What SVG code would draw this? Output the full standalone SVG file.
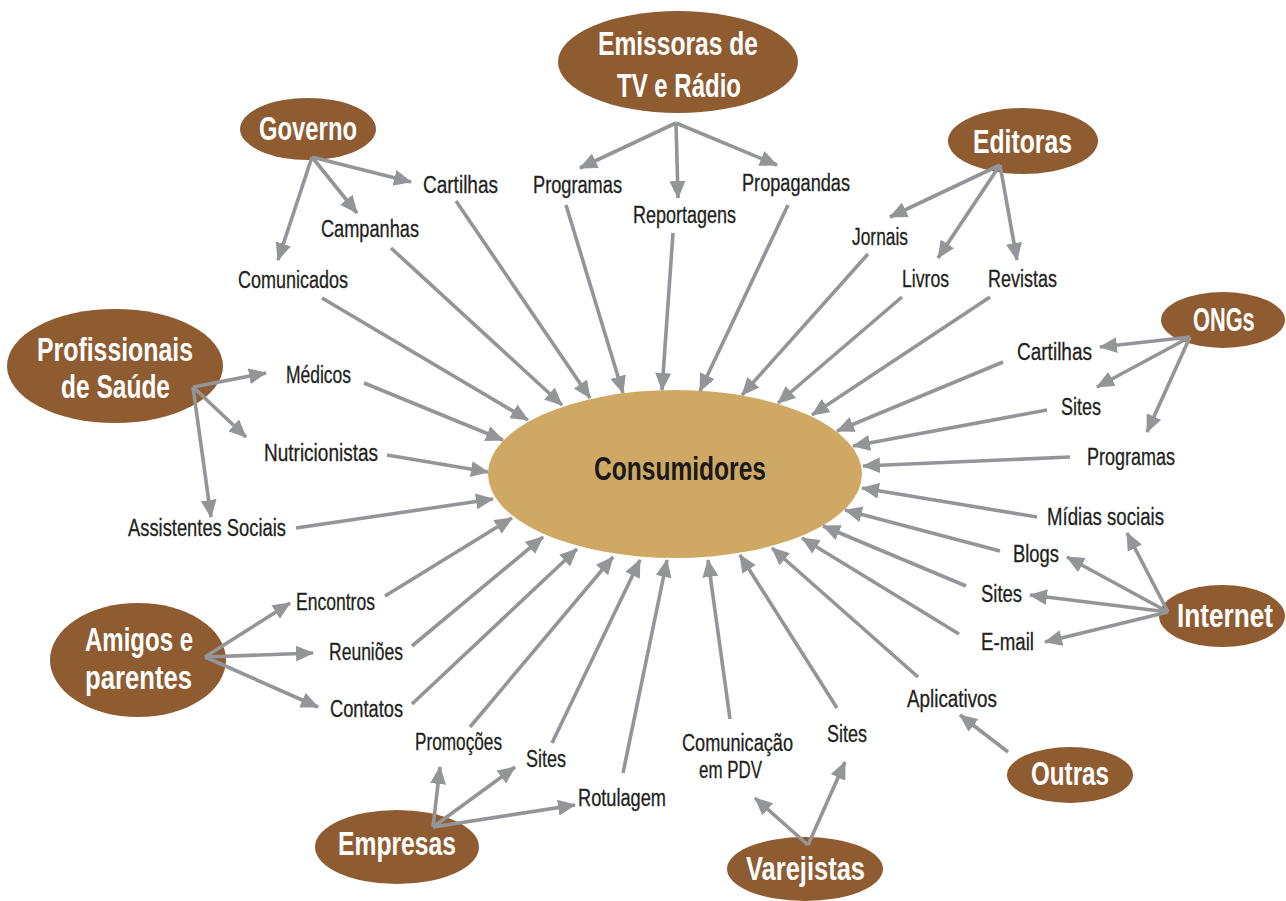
<svg xmlns="http://www.w3.org/2000/svg" width="1286" height="901" viewBox="0 0 1286 901">
  <style>
    .src { fill: #8f5b31; }
    .hub { fill: #cfa864; }
    .src-t { font-family: "Liberation Sans Narrow", "Liberation Sans", sans-serif; font-size: 34px; font-weight: bold; fill: #ffffff; }
    .hub-t { font-family: "Liberation Sans Narrow", "Liberation Sans", sans-serif; font-size: 34px; font-weight: bold; fill: #1a1a1a; }
    .lbl { font-family: "Liberation Sans Narrow", "Liberation Sans", sans-serif; font-size: 23.5px; fill: #231f20; stroke: #231f20; stroke-width: 0.3; }
    .arrow { stroke: #939598; stroke-width: 3.6; fill: none; marker-end: url(#head); }
  </style>
  <defs>
    <marker id="head" markerUnits="userSpaceOnUse" markerWidth="18" markerHeight="16" refX="17" refY="8" orient="auto">
      <path d="M0,0 L18,8 L0,16 Z" fill="#939598"/>
    </marker>
  </defs>
  <rect width="1286" height="901" fill="#ffffff"/>

  <!-- central node -->
  <g id="consumidores">
    <ellipse class="hub" cx="675" cy="474" rx="187" ry="84"/>
    <text class="hub-t" x="594" y="480" textLength="172" lengthAdjust="spacingAndGlyphs">Consumidores</text>
  </g>

  <!-- source nodes -->
  <g id="emissoras">
    <ellipse class="src" cx="678" cy="62" rx="120" ry="51"/>
    <text class="src-t" x="598" y="55" textLength="160" lengthAdjust="spacingAndGlyphs">Emissoras de</text>
    <text class="src-t" x="617" y="97" textLength="124" lengthAdjust="spacingAndGlyphs">TV e Rádio</text>
  </g>
  <g id="governo">
    <ellipse class="src" cx="308" cy="129" rx="68" ry="31"/>
    <text class="src-t" x="259" y="140" textLength="98" lengthAdjust="spacingAndGlyphs">Governo</text>
  </g>
  <g id="editoras">
    <ellipse class="src" cx="1023" cy="141" rx="75" ry="33"/>
    <text class="src-t" x="973" y="153" textLength="99" lengthAdjust="spacingAndGlyphs">Editoras</text>
  </g>
  <g id="ongs">
    <ellipse class="src" cx="1223" cy="320" rx="62" ry="28"/>
    <!-- narrowed by a horizontal scale so the line stays inside the page -->
    <text class="src-t" transform="translate(1193 331) scale(0.64 1)">ONGs</text>
  </g>
  <g id="profissionais">
    <ellipse class="src" cx="115" cy="366" rx="108" ry="57"/>
    <text class="src-t" x="37" y="361" textLength="156" lengthAdjust="spacingAndGlyphs">Profissionais</text>
    <text class="src-t" x="61" y="398" textLength="109" lengthAdjust="spacingAndGlyphs">de Saúde</text>
  </g>
  <g id="amigos">
    <ellipse class="src" cx="138" cy="660" rx="88" ry="57"/>
    <text class="src-t" x="85" y="651" textLength="108" lengthAdjust="spacingAndGlyphs">Amigos e</text>
    <text class="src-t" x="85" y="689" textLength="107" lengthAdjust="spacingAndGlyphs">parentes</text>
  </g>
  <g id="empresas">
    <ellipse class="src" cx="397" cy="847" rx="82" ry="37"/>
    <text class="src-t" x="338" y="855" textLength="118" lengthAdjust="spacingAndGlyphs">Empresas</text>
  </g>
  <g id="varejistas">
    <ellipse class="src" cx="805" cy="869" rx="78" ry="32"/>
    <text class="src-t" x="746" y="880" textLength="119" lengthAdjust="spacingAndGlyphs">Varejistas</text>
  </g>
  <g id="internet">
    <ellipse class="src" cx="1222" cy="616" rx="63" ry="31"/>
    <text class="src-t" transform="translate(1177 627) scale(0.77 1)">Internet</text>
  </g>
  <g id="outras">
    <ellipse class="src" cx="1070" cy="775" rx="63" ry="28"/>
    <text class="src-t" x="1031" y="785" textLength="78" lengthAdjust="spacingAndGlyphs">Outras</text>
  </g>

  <!-- channel labels -->
  <g id="gov-cartilhas"><text class="lbl" x="423" y="193" textLength="75" lengthAdjust="spacingAndGlyphs">Cartilhas</text></g>
  <g id="gov-campanhas"><text class="lbl" x="321" y="237" textLength="98" lengthAdjust="spacingAndGlyphs">Campanhas</text></g>
  <g id="gov-comunicados"><text class="lbl" x="238" y="288" textLength="110" lengthAdjust="spacingAndGlyphs">Comunicados</text></g>
  <g id="tv-programas"><text class="lbl" x="533" y="193" textLength="89" lengthAdjust="spacingAndGlyphs">Programas</text></g>
  <g id="tv-reportagens"><text class="lbl" x="633" y="223" textLength="103" lengthAdjust="spacingAndGlyphs">Reportagens</text></g>
  <g id="tv-propagandas"><text class="lbl" x="742" y="191" textLength="108" lengthAdjust="spacingAndGlyphs">Propagandas</text></g>
  <g id="ed-jornais"><text class="lbl" x="852" y="245" textLength="56" lengthAdjust="spacingAndGlyphs">Jornais</text></g>
  <g id="ed-livros"><text class="lbl" x="902" y="287" textLength="47" lengthAdjust="spacingAndGlyphs">Livros</text></g>
  <g id="ed-revistas"><text class="lbl" x="988" y="287" textLength="69" lengthAdjust="spacingAndGlyphs">Revistas</text></g>
  <g id="ong-cartilhas"><text class="lbl" x="1017" y="360" textLength="75" lengthAdjust="spacingAndGlyphs">Cartilhas</text></g>
  <g id="ong-sites"><text class="lbl" x="1061" y="415" textLength="40" lengthAdjust="spacingAndGlyphs">Sites</text></g>
  <g id="ong-programas"><text class="lbl" x="1087" y="465" textLength="88" lengthAdjust="spacingAndGlyphs">Programas</text></g>
  <g id="ps-medicos"><text class="lbl" x="286" y="383" textLength="65" lengthAdjust="spacingAndGlyphs">Médicos</text></g>
  <g id="ps-nutricionistas"><text class="lbl" x="264" y="461" textLength="114" lengthAdjust="spacingAndGlyphs">Nutricionistas</text></g>
  <g id="ps-assistentes"><text class="lbl" x="128" y="536" textLength="158" lengthAdjust="spacingAndGlyphs">Assistentes Sociais</text></g>
  <g id="am-encontros"><text class="lbl" x="296" y="610" textLength="79" lengthAdjust="spacingAndGlyphs">Encontros</text></g>
  <g id="am-reunioes"><text class="lbl" x="329" y="660" textLength="74" lengthAdjust="spacingAndGlyphs">Reuniões</text></g>
  <g id="am-contatos"><text class="lbl" x="330" y="717" textLength="73" lengthAdjust="spacingAndGlyphs">Contatos</text></g>
  <g id="emp-promocoes"><text class="lbl" x="415" y="750" textLength="87" lengthAdjust="spacingAndGlyphs">Promoções</text></g>
  <g id="emp-sites"><text class="lbl" x="526" y="767" textLength="40" lengthAdjust="spacingAndGlyphs">Sites</text></g>
  <g id="emp-rotulagem"><text class="lbl" x="578" y="806" textLength="88" lengthAdjust="spacingAndGlyphs">Rotulagem</text></g>
  <g id="var-pdv">
    <text class="lbl" x="682" y="751" textLength="111" lengthAdjust="spacingAndGlyphs">Comunicação</text>
    <text class="lbl" x="699" y="778" textLength="63" lengthAdjust="spacingAndGlyphs">em PDV</text>
  </g>
  <g id="var-sites"><text class="lbl" x="827" y="742" textLength="40" lengthAdjust="spacingAndGlyphs">Sites</text></g>
  <g id="out-aplicativos"><text class="lbl" x="907" y="707" textLength="90" lengthAdjust="spacingAndGlyphs">Aplicativos</text></g>
  <g id="int-email"><text class="lbl" x="981" y="650" textLength="53" lengthAdjust="spacingAndGlyphs">E-mail</text></g>
  <g id="int-sites"><text class="lbl" x="981" y="602" textLength="41" lengthAdjust="spacingAndGlyphs">Sites</text></g>
  <g id="int-blogs"><text class="lbl" x="1013" y="562" textLength="46" lengthAdjust="spacingAndGlyphs">Blogs</text></g>
  <g id="int-midias"><text class="lbl" x="1047" y="525" textLength="117" lengthAdjust="spacingAndGlyphs">Mídias sociais</text></g>

  <!-- connectors -->
  <g id="connectors">
    <!-- channels into the consumer hub -->
    <line class="arrow" x1="322" y1="298" x2="528" y2="420"/>
    <line class="arrow" x1="391" y1="248" x2="562" y2="405"/>
    <line class="arrow" x1="456" y1="201" x2="590" y2="398"/>
    <line class="arrow" x1="566" y1="205" x2="623" y2="393"/>
    <line class="arrow" x1="673" y1="233" x2="662" y2="390"/>
    <line class="arrow" x1="788" y1="205" x2="700" y2="391"/>
    <line class="arrow" x1="868" y1="254" x2="742" y2="395"/>
    <line class="arrow" x1="902" y1="297" x2="778" y2="403"/>
    <line class="arrow" x1="990" y1="297" x2="812" y2="415"/>
    <line class="arrow" x1="1003" y1="362" x2="837" y2="431"/>
    <line class="arrow" x1="1047" y1="410" x2="853" y2="446"/>
    <line class="arrow" x1="1070" y1="457" x2="863" y2="466"/>
    <line class="arrow" x1="1037" y1="517" x2="862" y2="488"/>
    <line class="arrow" x1="1000" y1="551" x2="845" y2="510"/>
    <line class="arrow" x1="966" y1="586" x2="823" y2="526"/>
    <line class="arrow" x1="959" y1="634" x2="802" y2="538"/>
    <line class="arrow" x1="918" y1="677" x2="772" y2="548"/>
    <line class="arrow" x1="837" y1="708" x2="740" y2="555"/>
    <line class="arrow" x1="730" y1="719" x2="708" y2="560"/>
    <line class="arrow" x1="623" y1="773" x2="667" y2="560"/>
    <line class="arrow" x1="552" y1="743" x2="640" y2="560"/>
    <line class="arrow" x1="470" y1="727" x2="613" y2="557"/>
    <line class="arrow" x1="412" y1="704" x2="577" y2="549"/>
    <line class="arrow" x1="412" y1="646" x2="543" y2="537"/>
    <line class="arrow" x1="385" y1="596" x2="512" y2="518"/>
    <line class="arrow" x1="296" y1="528" x2="493" y2="499"/>
    <line class="arrow" x1="387" y1="455" x2="488" y2="472"/>
    <line class="arrow" x1="364" y1="383" x2="503" y2="440"/>

    <!-- sources out to their channels -->
    <line class="arrow" x1="312" y1="157" x2="411" y2="182"/>
    <line class="arrow" x1="312" y1="157" x2="357" y2="213"/>
    <line class="arrow" x1="312" y1="157" x2="278" y2="260"/>

    <line class="arrow" x1="676" y1="123" x2="580" y2="168"/>
    <line class="arrow" x1="676" y1="123" x2="678" y2="198"/>
    <line class="arrow" x1="676" y1="123" x2="777" y2="165"/>

    <line class="arrow" x1="1000" y1="165" x2="890" y2="217"/>
    <line class="arrow" x1="1000" y1="165" x2="938" y2="258"/>
    <line class="arrow" x1="1000" y1="165" x2="1017" y2="260"/>

    <line class="arrow" x1="1190" y1="337" x2="1100" y2="347"/>
    <line class="arrow" x1="1190" y1="337" x2="1097" y2="387"/>
    <line class="arrow" x1="1190" y1="337" x2="1147" y2="432"/>

    <line class="arrow" x1="193" y1="387" x2="266" y2="373"/>
    <line class="arrow" x1="193" y1="387" x2="246" y2="437"/>
    <line class="arrow" x1="193" y1="387" x2="211" y2="517"/>

    <line class="arrow" x1="205" y1="657" x2="290" y2="603"/>
    <line class="arrow" x1="205" y1="657" x2="313" y2="653"/>
    <line class="arrow" x1="205" y1="657" x2="318" y2="707"/>

    <line class="arrow" x1="433" y1="827" x2="440" y2="767"/>
    <line class="arrow" x1="433" y1="827" x2="515" y2="767"/>
    <line class="arrow" x1="433" y1="827" x2="575" y2="805"/>

    <line class="arrow" x1="808" y1="845" x2="755" y2="798"/>
    <line class="arrow" x1="808" y1="845" x2="845" y2="762"/>

    <line class="arrow" x1="1168" y1="612" x2="1127" y2="533"/>
    <line class="arrow" x1="1168" y1="612" x2="1067" y2="557"/>
    <line class="arrow" x1="1168" y1="612" x2="1030" y2="595"/>
    <line class="arrow" x1="1168" y1="612" x2="1045" y2="642"/>

    <line class="arrow" x1="1008" y1="752" x2="960" y2="715"/>
  </g>
</svg>
